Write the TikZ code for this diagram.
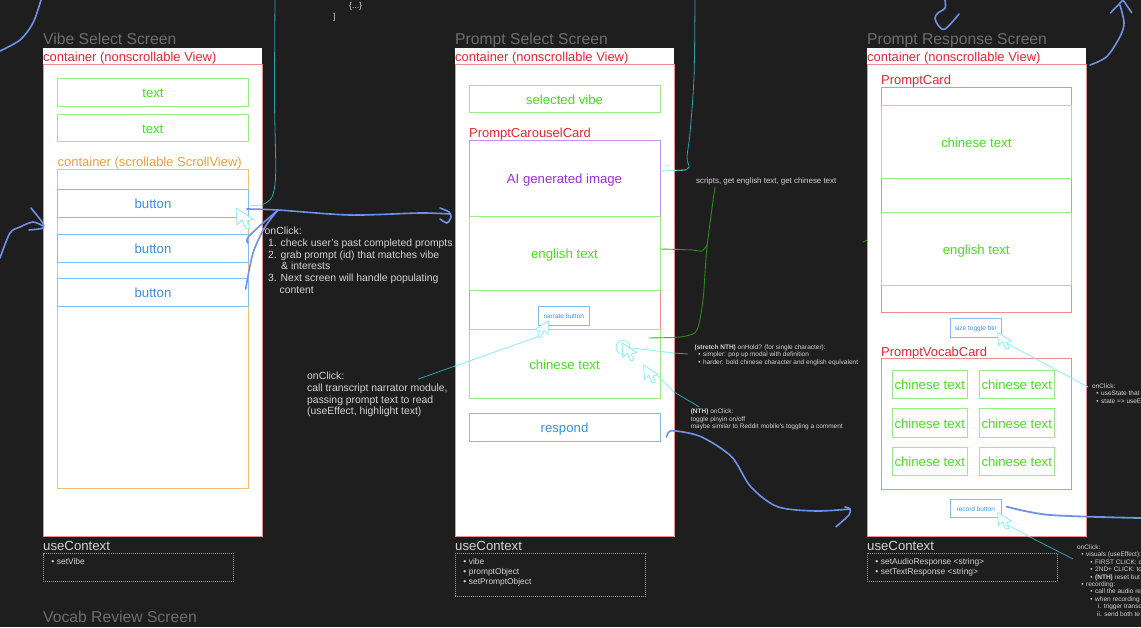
\documentclass[tikz,border=0pt]{standalone}
\usepackage{fontspec}
\setmainfont{Liberation Sans}
\usetikzlibrary{positioning}
\definecolor{canvas}{HTML}{1E1E1E}
\definecolor{redtxt}{HTML}{E5262B}
\definecolor{redln}{HTML}{EE8F8F}
\definecolor{greentxt}{HTML}{45E020}
\definecolor{greenln}{HTML}{98EC82}
\definecolor{bluetxt}{HTML}{3A90E6}
\definecolor{blueln}{HTML}{82BCF2}
\definecolor{orangetxt}{HTML}{E8A040}
\definecolor{orangeln}{HTML}{F5BF70}
\definecolor{purpletxt}{HTML}{9A30E0}
\definecolor{purpleln}{HTML}{C293F2}
\definecolor{titlegrey}{HTML}{6E6E6E}
\definecolor{notegrey}{HTML}{D4D4D4}
\definecolor{penblue}{HTML}{7090EA}
\definecolor{penteal}{HTML}{2AA5AC}
\definecolor{pencyan}{HTML}{86F0F2}
\definecolor{pengreen}{HTML}{2C8A1C}
\newcommand{\fsz}[1]{\fontsize{#1}{#1}\selectfont}
\newcommand{\bul}[1]{\hspace*{#1pt}\llap{\textbullet\hspace{2.6pt}}}
\tikzset{
	uibox/.style = {anchor=north west, inner sep=0pt, outer sep=0pt, line width=.8pt, fill=white},
	greenbox/.style = {uibox, draw=greenln, text=greentxt, font=\fsz{13.2}, text height=10.5pt, text depth=0pt},
	bluebox/.style = {uibox, draw=blueln, text=bluetxt, font=\fsz{13.2}, text height=10.5pt, text depth=0pt},
	smallbtn/.style = {uibox, draw=blueln, text=bluetxt, font=\fsz{6.5}, text height=5.5pt, text depth=0pt},
	redbox/.style = {uibox, draw=redln},
	titletext/.style = {anchor=base west, inner sep=0pt, text=titlegrey, font=\fsz{15.7}},
	redlabel/.style = {anchor=base west, inner sep=0pt, text=redtxt, font=\fsz{12.95}},
	ctxlabel/.style = {anchor=base west, inner sep=0pt, text=notegrey, font=\fsz{13.2}},
	ctxbox/.style = {anchor=north west, inner sep=0pt, outer sep=0pt, draw=notegrey!70!black, line width=.6pt, dash pattern=on 1pt off 1pt},
	ctxtext/.style = {anchor=north west, inner sep=0pt, text=notegrey, align=left, font=\fontsize{8.4}{9.8}\selectfont},
	bignote/.style = {anchor=north west, inner sep=0pt, text=notegrey, align=left, font=\fontsize{10.4}{11.7}\selectfont},
	tinynote/.style = {anchor=north west, inner sep=0pt, text=notegrey, align=left, font=\fontsize{6.5}{7.4}\selectfont},
	bluepen/.style = {draw=penblue, line width=1.6pt, line cap=round, line join=round},
	tealpen/.style = {draw=penteal, line width=.8pt, line cap=round},
	cyanpen/.style = {draw=pencyan, line width=.8pt, line cap=round},
	greenpen/.style = {draw=pengreen, line width=.9pt, line cap=round},
	cursorpic/.pic = {
		\draw[pencyan, line width=.8pt, line join=round, fill=white] (0,0) -- (1,17) -- (6,12) -- (10,21) -- (14,20) -- (11,13) -- (17,11) -- cycle;
	}
}
\begin{document}
\begin{tikzpicture}[x=1pt, y=-1pt]
	\path[fill=canvas] (0,0) rectangle (1141,627);
	\useasboundingbox (0,0) rectangle (1141,627);

	% three phone screens
	\foreach \id/\xx/\ttl in {A/43/Vibe Select Screen, B/455/Prompt Select Screen, C/867/Prompt Response Screen} {
		\node[uibox, minimum width=219, minimum height=488, line width=0pt] (screen\id) at (\xx,48) {};
		\node[redbox, minimum width=219, minimum height=471.5] (frame\id) at (\xx,64.5) {};
		\node[titletext] (title\id) at (\xx,44) {\ttl};
		\node[redlabel] (head\id) at (\xx,61) {container (nonscrollable View)};
	}
	\node[titletext] (titleVocab) at (43,622) {Vocab Review Screen};

	% vibe select
	\node[greenbox, minimum width=191, minimum height=27.5] (vibeTextA) at (57.5,78.5) {text};
	\node[greenbox, minimum width=190.5, minimum height=27.5] (vibeTextB) at (57.5,114) {text};
	\node[anchor=base west, inner sep=0pt, text=orangetxt, font=\fsz{12.95}] (scrollLabel) at (57.5,166.7) {container (scrollable ScrollView)};
	\node[uibox, draw=orangeln, minimum width=191, minimum height=319] (scrollBox) at (57.5,169.5) {};
	\node[bluebox, minimum width=191, minimum height=28] (btnA) at (57.5,189.5) {button};
	\node[bluebox, minimum width=191, minimum height=28.5] (btnB) at (57.5,234) {button};
	\node[bluebox, minimum width=191, minimum height=28] (btnC) at (57.5,278.5) {button};

	% prompt select
	\node[greenbox, minimum width=191, minimum height=27.5] (selVibe) at (469,85) {selected vibe};
	\node[redlabel] (carouselLabel) at (469,137) {PromptCarouselCard};
	\node[redbox, minimum width=191, minimum height=258] (carouselCard) at (469,140.5) {};
	\node[uibox, draw=purpleln, text=purpletxt, font=\fsz{13.2}, text height=10.5pt, text depth=0pt, minimum width=191, minimum height=76] (aiImage) at (469,140.5) {AI generated image};
	\node[greenbox, minimum width=191, minimum height=73.5] (engCarousel) at (469,216.5) {english text};
	\node[greenbox, minimum width=191, minimum height=68.5] (zhCarousel) at (469,329.5) {chinese text};
	\node[smallbtn, minimum width=51.5, minimum height=19] (narrateBtn) at (538,306.5) {narrate button};
	\node[bluebox, minimum width=191, minimum height=28] (respondBtn) at (469,413) {respond};

	% prompt response
	\node[redlabel] (cardLabel) at (881,84.5) {PromptCard};
	\node[redbox, minimum width=190.5, minimum height=224.5] (promptCard) at (881,87.5) {};
	\node[greenbox, minimum width=190.5, minimum height=73] (zhCard) at (881,105.5) {chinese text};
	\node[greenbox, minimum width=190.5, minimum height=73] (engCard) at (881,212.3) {english text};
	\node[smallbtn, minimum width=51.5, minimum height=19] (sizeBtn) at (950,318.5) {size toggle btn};
	\node[redlabel] (vocabLabel) at (881,356.5) {PromptVocabCard};
	\node[redbox, minimum width=190.5, minimum height=131] (vocabCard) at (881,358.5) {};
	\foreach \n/\xx/\yy in {a/892/370.5, b/979/370.5, c/892/408.8, d/979/408.8, e/892/447.3, f/979/447.3}
		\node[greenbox, minimum width=75.5, minimum height=28.3] (vocab\n) at (\xx,\yy) {chinese text};
	\node[smallbtn, minimum width=51.5, minimum height=18.5] (recordBtn) at (950,499) {record button};

	% useContext boxes
	\foreach \id/\xx in {A/43, B/455, C/867}
		\node[ctxlabel] (ctx\id) at (\xx,550) {useContext};
	\node[ctxbox, minimum width=190.5, minimum height=27.5] (ctxBoxA) at (43,553.5) {};
	\node[ctxbox, minimum width=190.5, minimum height=43.5] (ctxBoxB) at (455,553) {};
	\node[ctxbox, minimum width=190, minimum height=28] (ctxBoxC) at (867,553) {};
	\node[ctxtext] (ctxListA) at (43,558.5) {\bul{13.7}setVibe};
	\node[ctxtext] (ctxListB) at (455,558.5) {\bul{13.7}vibe\\\bul{13.7}promptObject\\\bul{13.7}setPromptObject};
	\node[ctxtext] (ctxListC) at (867,558.5) {\bul{13.7}setAudioResponse <string>\\\bul{13.7}setTextResponse <string>};

	% notes
	\node[anchor=base west, inner sep=0pt, text=notegrey, font=\fsz{8.5}] (braceNote) at (349,8) {\{...\}};
	\node[anchor=base west, inner sep=0pt, text=notegrey, font=\fsz{8.5}] (bracketNote) at (333,19) {]};
	\node[bignote] (clickVibe) at (264.5,227) {onClick:\\\hspace*{3.5pt}1. check user's past completed prompts\\\hspace*{3.5pt}2. grab prompt (id) that matches vibe\\\hspace*{16.5pt}\& interests\\\hspace*{3.5pt}3. Next screen will handle populating\\\hspace*{15pt}content};
	\node[bignote] (clickNarrate) at (307,372) {onClick:\\call transcript narrator module,\\passing prompt text to read\\(useEffect, highlight text)};
	\node[tinynote, font=\fsz{7.9}] (noteScripts) at (696,178) {scripts, get english text, get chinese text};
	\node[tinynote] (noteHold) at (694.5,344.5) {\textbf{(stretch NTH)} onHold? (for single character):\\\bul{8.5}simpler: pop up modal with definition\\\bul{8.5}harder: bold chinese character and english equivalent};
	\node[tinynote] (notePinyin) at (690.6,409) {\textbf{(NTH)} onClick:\\toggle pinyin on/off\\maybe similar to Reddit mobile's toggling a comment};
	\node[tinynote] (noteSize) at (1092,383.5) {onClick:\\\bul{9}useState that\\\bul{9}state => useE};
	\node[tinynote] (noteRecord) at (1077,544.5) {onClick:\\\bul{9}visuals (useEffect):\\\bul{18}FIRST CLICK: c\\\bul{18}2ND+ CLICK: to\\\bul{18}\textbf{(NTH)} reset but\\\bul{9}recording:\\\bul{18}call the audio re\\\bul{18}when recording\\\hspace*{21pt}i. trigger transc\\\hspace*{20pt}ii. send both te};

	% teal note lines and cursors
	\coordinate (topTealA) at (275,0);
	\coordinate (edgeTealA) at (262,205);
	\coordinate (topTealB) at (695,0);
	\coordinate (endTealB) at (660,171);
	\draw[tealpen] plot[smooth, tension=.5] coordinates {(topTealA) (274.5,100) (275.7,173) (272,197) (edgeTealA)};
	\draw[cyanpen] (edgeTealA) -- (248,206);
	\pic at (236,208) {cursorpic};
	\draw[tealpen] plot[smooth, tension=.5] coordinates {(topTealB) (694,77) (690,133) (687,157) (689,167) (685,170)};
	\draw[cyanpen] (685,170) -- (endTealB);
	\draw[cyanpen] (666,165.5) -- (669,166);
	\coordinate (noteNarrate) at (418.5,379);
	\coordinate (midNarrate) at (455,366);
	\coordinate (endNarrate) at (540,336);
	\draw[tealpen] (noteNarrate) -- (midNarrate);
	\draw[cyanpen] (midNarrate) -- (endNarrate);
	\pic[xscale=-.8, yscale=.8] at (548.7,320.7) {cursorpic};
	\coordinate (noteHoldEnd) at (687.6,354);
	\draw[tealpen] (noteHoldEnd) -- (674,353);
	\draw[cyanpen] (674,353) -- (632,348);
	\draw[cyanpen] (623,347.5) circle (7);
	\pic[scale=.85] at (622,343) {cursorpic};
	\coordinate (notePinyinEnd) at (699,406.7);
	\draw[tealpen] (notePinyinEnd) -- (674,392);
	\draw[cyanpen] (674,392) -- (657,375);
	\pic[scale=.85] at (643.6,365) {cursorpic};
	\coordinate (noteSizeEnd) at (1088,387);
	\draw[cyanpen] (noteSizeEnd) -- (1006.7,343.3);
	\pic[scale=.8] at (997.7,332.3) {cursorpic};
	\coordinate (noteRecordEnd) at (1073,559);
	\draw[tealpen] (noteRecordEnd) -- (1030,537);
	\draw[cyanpen] (1030,537) -- (1006.7,524.3);
	\pic[scale=.8] at (997.7,512.3) {cursorpic};

	% green note lines
	\coordinate (scriptsFoot) at (715,187);
	\coordinate (zhTail) at (649,338);
	\coordinate (engTail) at (661,249);
	\draw[greenpen] plot[smooth, tension=.5] coordinates {(scriptsFoot) (707,247) (703,300) (697,330) (686,336) (674,337.5)};
	\draw[greenpen, draw=greentxt!80!black] (674,337.5) -- (zhTail);
	\draw[greenpen, draw=greentxt!80!black] (engTail) -- (680,249.5);
	\draw[greenpen] plot[smooth, tension=.5] coordinates {(680,249.5) (693,250) (702,251) (707,245)};
	\draw[greenpen] (863,242) -- (867,240);

	% blue pen arrows
	\coordinate (pickStart) at (247,209);
	\coordinate (pickEnd) at (450,214);
	\coordinate (pickJoin) at (278,210);
	\draw[bluepen] plot[smooth, tension=.5] coordinates {(pickStart) (pickJoin) (350,215) (420,213) (pickEnd)};
	\draw[bluepen] plot[smooth, tension=.5] coordinates {(440,208) (449,212) (451,217) (447,223) (440,219)};
	\draw[bluepen] plot[smooth, tension=.5] coordinates {(248,243) (249,236) (pickJoin)};
	\draw[bluepen] plot[smooth, tension=.5] coordinates {(245.7,289) (253,253) (265,227) (pickJoin)};
	\coordinate (leftInA) at (0,258);
	\coordinate (leftInB) at (43,226);
	\draw[bluepen] plot[smooth, tension=.5] coordinates {(leftInA) (10,233) (20,227) (33,222) (leftInB)};
	\draw[bluepen] plot[smooth, tension=.5] coordinates {(31,208) (42,222) (43,228) (29,230)};
	\draw[bluepen] plot[smooth, tension=.5] coordinates {(41,0) (33,23) (20,40) (0,51)};
	\coordinate (respondTail) at (666.5,437);
	\coordinate (respondHead) at (850,509);
	\draw[bluepen] plot[smooth, tension=.5] coordinates {(respondTail) (668,433) (674,430.7) (701,436.7) (731.6,456.7) (750.7,486.7) (777.5,506.7) (815.8,511) (respondHead)};
	\draw[bluepen] plot[smooth, tension=.5] coordinates {(845,507) (850,509) (849,515) (836,526.7)};
	\coordinate (recordEnd) at (1006.7,506.7);
	\draw[bluepen, line width=1.8pt] plot[smooth, tension=.5] coordinates {(1141,518) (1050,515) (recordEnd)};
	\draw[bluepen] plot[smooth, tension=.5] coordinates {(1090,65) (1106.7,56.7) (1120,36.7) (1124,23) (1120,5)};
	\draw[bluepen] (1110.7,12.7) -- (1123,0) -- (1131.7,12.7);
	\draw[bluepen] plot[smooth, tension=.6] coordinates {(945,0) (945,8) (938,13) (935,18) (938,25) (945,29) (959,14)};
\end{tikzpicture}
\end{document}
